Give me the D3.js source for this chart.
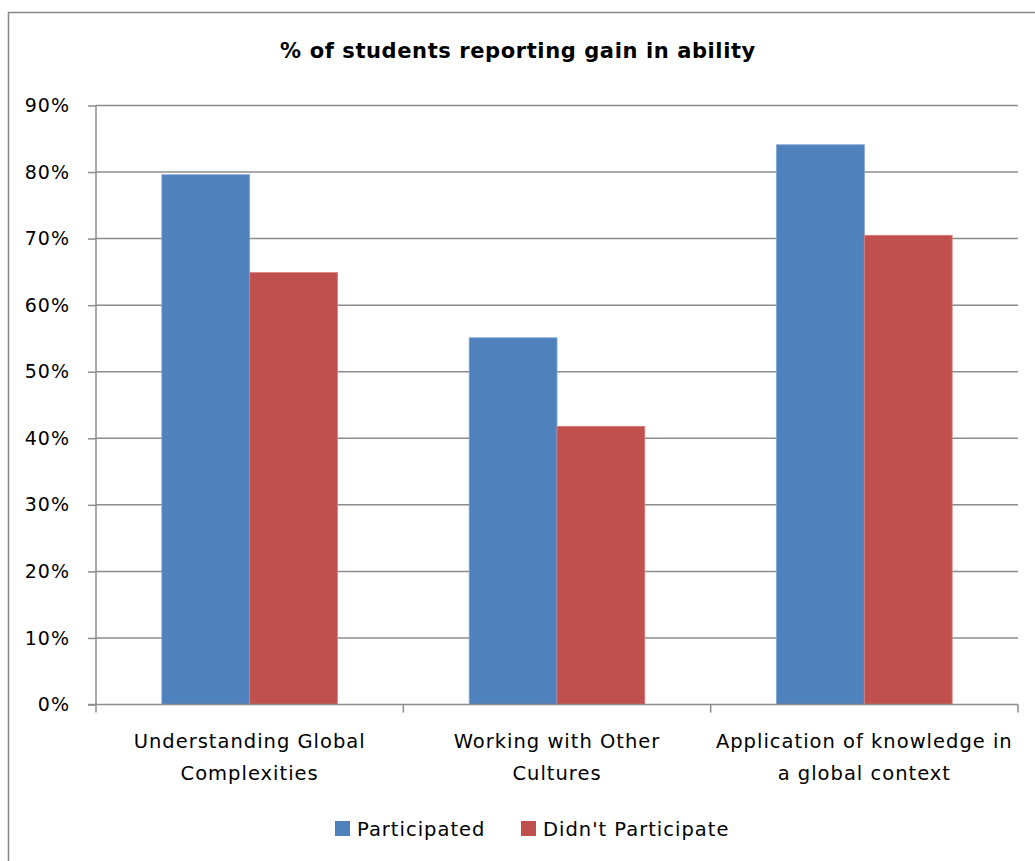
<!DOCTYPE html>
<html>
<head>
<meta charset="utf-8">
<script src="https://cdn.jsdelivr.net/npm/d3@7"></script>
<style>
  body { margin: 0; background: #fff; }
  svg { display: block; font-family: "DejaVu Sans", sans-serif; }
</style>
</head>
<body>
<div id="chart"></div>
<script>
// data
var categories = [
    ["Understanding Global", "Complexities"],
    ["Working with Other", "Cultures"],
    ["Application of knowledge in", "a global context"]
];
var seriesNames = ["Participated", "Didn't Participate"];
var participated = [0.796, 0.551, 0.841];
var didntParticipate = [0.649, 0.418, 0.705];
var yTicks = [0, 0.1, 0.2, 0.3, 0.4, 0.5, 0.6, 0.7, 0.8, 0.9];

var color = {"Participated": "#4F81BD", "Didn't Participate": "#C0504D"};
var edge = {"Participated": "#7FA3D4", "Didn't Participate": "#D8817F"};

var width = 1035, height = 861;
var margin = {left: 96, right: 17, top: 105.5, bottom: 156.5};
var fontSize = "19.5px", spacing = "1px";

var svg = d3.select("#chart").append("svg")
    .attr("width", width)
    .attr("height", height);

// outer chart border
svg.append("rect")
    .attr("x", 8.5).attr("y", 12.5)
    .attr("width", 1100).attr("height", 1000)
    .attr("fill", "none")
    .attr("stroke", "#868686")
    .attr("stroke-width", 1.5);

svg.append("text")
    .attr("x", 518)
    .attr("y", 58)
    .attr("text-anchor", "middle")
    .style("font-weight", "bold")
    .style("font-size", "21px")
    .style("letter-spacing", "0.6px")
    .text("% of students reporting gain in ability");

var x = d3.scaleBand()
    .domain(d3.range(categories.length))
    .range([margin.left, width - margin.right]);

var inner = d3.scaleBand()
    .domain(seriesNames)
    .range([0, x.bandwidth()])
    .paddingOuter(0.75)
    .paddingInner(0);

var y = d3.scaleLinear()
    .domain([0, 0.9])
    .range([height - margin.bottom, margin.top]);

// gridlines
svg.append("g")
    .selectAll("line")
    .data(yTicks.slice(1))
    .enter().append("line")
    .attr("x1", margin.left)
    .attr("x2", width - margin.right)
    .attr("y1", function(d){ return y(d); })
    .attr("y2", function(d){ return y(d); })
    .attr("stroke", "#8c8c8c")
    .attr("stroke-width", 1.5);

// bars
var rows = categories.map(function(c, i){
    return [
        {key: "Participated", i: i, value: participated[i]},
        {key: "Didn't Participate", i: i, value: didntParticipate[i]}
    ];
});

var groups = svg.append("g").selectAll("g")
    .data(rows)
    .enter().append("g")
    .attr("transform", function(d, i){ return "translate(" + x(i) + ",0)"; });

groups.selectAll("rect")
    .data(function(d){ return d; })
    .enter().append("rect")
    .attr("x", function(d){ return inner(d.key); })
    .attr("y", function(d){ return y(d.value); })
    .attr("width", inner.bandwidth())
    .attr("height", function(d){ return y(0) - y(d.value); })
    .attr("fill", function(d){ return color[d.key]; })
    .attr("stroke", function(d){ return edge[d.key]; })
    .attr("stroke-width", 0.8);

// y axis
var yAxis = svg.append("g")
    .attr("transform", "translate(" + margin.left + ",0)")
    .call(d3.axisLeft(y).tickValues(yTicks).tickFormat(d3.format(".0%")).tickSize(8).tickPadding(18));
yAxis.selectAll("line, path").attr("stroke", "#8c8c8c").attr("stroke-width", 1.5);
yAxis.select(".domain").attr("d", "M0," + y(0) + "V" + y(0.9));
yAxis.selectAll("text")
    .style("font-size", "19px")
    .style("letter-spacing", spacing)
    .style("font-family", "'DejaVu Sans', sans-serif")
    .attr("fill", "#000");

// x axis
var xAxis = svg.append("g")
    .attr("transform", "translate(0," + y(0) + ")");
xAxis.append("line")
    .attr("x1", margin.left - 8).attr("x2", width - margin.right)
    .attr("stroke", "#8c8c8c").attr("stroke-width", 1.5);
xAxis.selectAll(".tk")
    .data(d3.range(categories.length + 1))
    .enter().append("line")
    .attr("class", "tk")
    .attr("x1", function(d){ return d < categories.length ? x(d) : x(d - 1) + x.bandwidth(); })
    .attr("x2", function(d){ return d < categories.length ? x(d) : x(d - 1) + x.bandwidth(); })
    .attr("y1", 0).attr("y2", 8)
    .attr("stroke", "#8c8c8c").attr("stroke-width", 1.5);

var labels = xAxis.selectAll(".lbl")
    .data(categories)
    .enter().append("text")
    .attr("class", "lbl")
    .attr("text-anchor", "middle")
    .style("font-size", fontSize)
    .style("letter-spacing", spacing)
    .attr("x", function(d, i){ return x(i) + x.bandwidth() / 2; });
labels.selectAll("tspan")
    .data(function(d){ return d; })
    .enter().append("tspan")
    .attr("x", function(){ var p = d3.select(this.parentNode); return p.attr("x"); })
    .attr("y", function(d, j){ return 43 + j * 32; })
    .text(function(d){ return d; });

// legend
var legendX = [335, 521];
var legend = svg.append("g").selectAll("g")
    .data(seriesNames)
    .enter().append("g")
    .attr("transform", function(d, i){ return "translate(" + legendX[i] + ",821)"; });
legend.append("rect")
    .attr("width", 15).attr("height", 15)
    .attr("fill", function(d){ return color[d]; });
legend.append("text")
    .attr("x", 22).attr("y", 15)
    .style("font-size", fontSize)
    .style("letter-spacing", spacing)
    .text(function(d){ return d; });
</script>
</body>
</html>
